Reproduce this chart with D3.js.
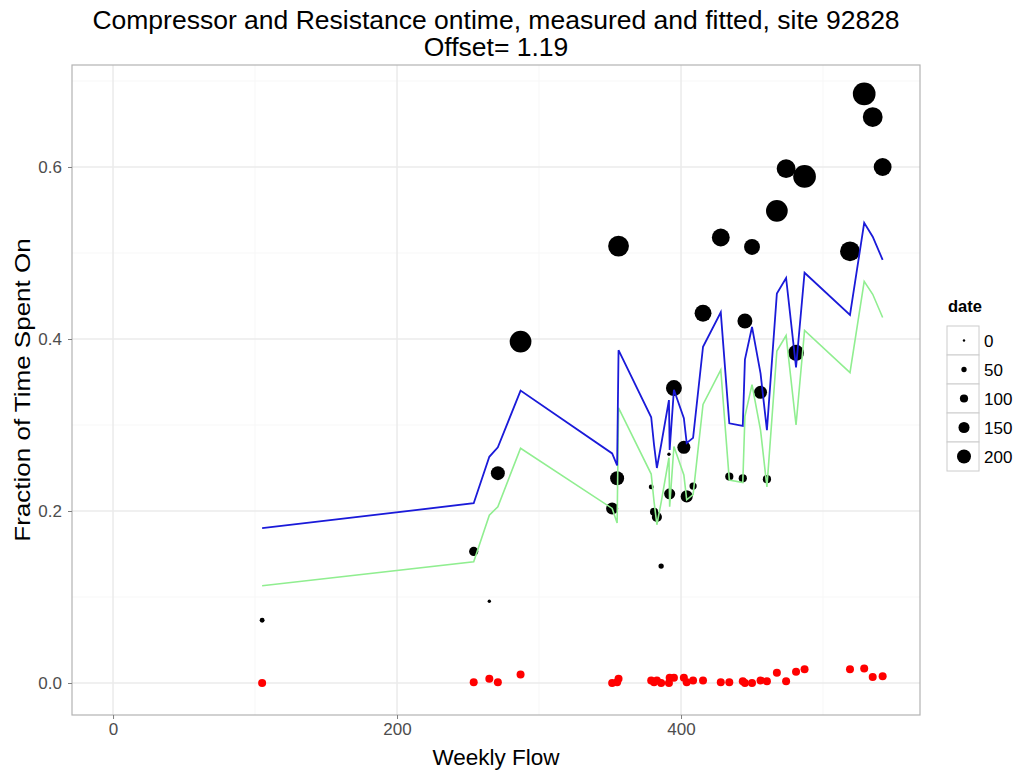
<!DOCTYPE html>
<html>
<head>
<meta charset="utf-8">
<script src="https://cdn.jsdelivr.net/npm/d3@7"></script>
<style>
  body { margin: 0; background: #fff; }
  text { font-family: "Liberation Sans", Arial, sans-serif; }
</style>
</head>
<body>
<div id="chart"></div>
<script>
// weekly flow for every observation
var flow = [105, 254, 265, 271, 287, 351.5, 355, 356, 379, 381, 383, 386, 391.5, 392, 395, 402, 404, 408.5,
            415.5, 428, 434, 443.5, 445, 450, 456, 460.5, 467.5, 474, 481, 487, 519, 529, 535, 542];
// measured compressor fraction (black points)
var measured = [0.073, 0.153, 0.095, 0.244, 0.397, 0.203, 0.238, 0.508, 0.228, 0.199, 0.193, 0.136, 0.266, 0.220,
                0.343, 0.274, 0.217, 0.229, 0.430, 0.518, 0.240, 0.238, 0.421, 0.507, 0.338, 0.237, 0.549, 0.598,
                0.384, 0.589, 0.502, 0.685, 0.658, 0.600];
// date, mapped to point size
var date = [43, 117, 17, 200, 333, 167, 200, 317, 43, 100, 133, 50, 17, 150, 233, 183, 167, 83, 250, 267, 100,
            100, 217, 233, 183, 100, 333, 283, 233, 350, 300, 350, 300, 267];
// resistance ontime (red points)
var resist = [0.000, 0.001, 0.005, 0.001, 0.010, 0.000, 0.001, 0.005, 0.003, 0.001, 0.003, 0.000, 0.000, 0.006,
              0.006, 0.006, 0.001, 0.003, 0.003, 0.001, 0.001, 0.002, 0.000, 0.000, 0.003, 0.002, 0.012, 0.002,
              0.013, 0.016, 0.016, 0.017, 0.007, 0.008];
// fitted lines
var fitBlue = [0.180, 0.209, 0.263, 0.274, 0.340, 0.267, 0.253, 0.387, 0.309, 0.277, 0.250, 0.277, 0.329, 0.271,
               0.341, 0.308, 0.279, 0.285, 0.391, 0.431, 0.302, 0.299, 0.376, 0.414, 0.360, 0.294, 0.453, 0.471,
               0.367, 0.477, 0.428, 0.535, 0.519, 0.492];
var fitGreen = [0.113, 0.141, 0.195, 0.205, 0.273, 0.203, 0.186, 0.320, 0.243, 0.211, 0.184, 0.210, 0.262, 0.205,
                0.275, 0.242, 0.213, 0.219, 0.324, 0.364, 0.236, 0.233, 0.310, 0.347, 0.294, 0.228, 0.386, 0.404,
                0.300, 0.410, 0.361, 0.467, 0.452, 0.425];

var xTicks = [0, 200, 400];
var yTicks = [0, 0.2, 0.4, 0.6];
var legendBreaks = [0, 50, 100, 150, 200];

var width = 1013,
    height = 772;
var margin = {left: 72, right: 93, top: 65, bottom: 57};

var svg = d3.select("#chart").append("svg")
    .attr("width", width)
    .attr("height", height);

var x = d3.scaleLinear()
    .domain([-28.9, 568.3])
    .range([margin.left, width - margin.right]);

var y = d3.scaleLinear()
    .domain([-0.0372, 0.7186])
    .range([height - margin.bottom, margin.top]);

var r = d3.scaleLinear()
    .domain([0, 200])
    .range([1.2, 7]);

var rows = flow.map(function(f, i) {
  return {flow: f, m: measured[i], date: date[i], res: resist[i], blue: fitBlue[i], green: fitGreen[i]};
});

// panel + grid
svg.append("rect")
    .attr("x", x.range()[0]).attr("y", y.range()[1])
    .attr("width", x.range()[1] - x.range()[0])
    .attr("height", y.range()[0] - y.range()[1])
    .attr("fill", "#fff");

var minorX = [100, 300, 500],
    minorY = [0.1, 0.3, 0.5, 0.7];

svg.selectAll(".minx").data(minorX).enter().append("line")
    .attr("x1", x).attr("x2", x)
    .attr("y1", y.range()[0]).attr("y2", y.range()[1])
    .attr("stroke", "#f7f7f7").attr("stroke-width", 1);
svg.selectAll(".miny").data(minorY).enter().append("line")
    .attr("y1", y).attr("y2", y)
    .attr("x1", x.range()[0]).attr("x2", x.range()[1])
    .attr("stroke", "#f7f7f7").attr("stroke-width", 1);
svg.selectAll(".majx").data(xTicks).enter().append("line")
    .attr("x1", x).attr("x2", x)
    .attr("y1", y.range()[0]).attr("y2", y.range()[1])
    .attr("stroke", "#ebebeb").attr("stroke-width", 1.5);
svg.selectAll(".majy").data(yTicks).enter().append("line")
    .attr("y1", y).attr("y2", y)
    .attr("x1", x.range()[0]).attr("x2", x.range()[1])
    .attr("stroke", "#ebebeb").attr("stroke-width", 1.5);

// points first, lines drawn over them
svg.selectAll(".meas").data(rows).enter().append("circle")
    .attr("cx", function(d) { return x(d.flow); })
    .attr("cy", function(d) { return y(d.m); })
    .attr("r", function(d) { return r(d.date); })
    .attr("fill", "#000");

svg.selectAll(".res").data(rows).enter().append("circle")
    .attr("cx", function(d) { return x(d.flow); })
    .attr("cy", function(d) { return y(d.res); })
    .attr("r", 4)
    .attr("fill", "#ff0000");

var lineBlue = d3.line()
    .x(function(d) { return x(d.flow); })
    .y(function(d) { return y(d.blue); });
var lineGreen = d3.line()
    .x(function(d) { return x(d.flow); })
    .y(function(d) { return y(d.green); });

svg.append("path").datum(rows)
    .attr("d", lineGreen)
    .attr("fill", "none").attr("stroke", "#90ee90").attr("stroke-width", 1.6);
svg.append("path").datum(rows)
    .attr("d", lineBlue)
    .attr("fill", "none").attr("stroke", "#1a1ad9").attr("stroke-width", 1.8);

// panel border
svg.append("rect")
    .attr("x", x.range()[0]).attr("y", y.range()[1])
    .attr("width", x.range()[1] - x.range()[0])
    .attr("height", y.range()[0] - y.range()[1])
    .attr("fill", "none").attr("stroke", "#b3b3b3").attr("stroke-width", 1.2);

// axes
var xAxis = svg.append("g")
    .attr("transform", "translate(0," + y.range()[0] + ")")
    .call(d3.axisBottom(x).tickValues(xTicks).tickSize(4).tickPadding(4).tickFormat(d3.format("d")));
var yAxis = svg.append("g")
    .attr("transform", "translate(" + x.range()[0] + ",0)")
    .call(d3.axisLeft(y).tickValues(yTicks).tickSize(4).tickPadding(6).tickFormat(d3.format(".1f")));

[xAxis, yAxis].forEach(function(g) {
  g.select(".domain").remove();
  g.selectAll(".tick line").attr("stroke", "#7f7f7f");
  g.selectAll(".tick text").attr("fill", "#4d4d4d").style("font-size", "17px");
});

// titles
svg.append("text")
    .attr("x", 496).attr("y", 29)
    .attr("text-anchor", "middle")
    .style("font-size", "26.5px")
    .text("Compressor and Resistance ontime, measured and fitted, site 92828");
svg.append("text")
    .attr("x", 496).attr("y", 56)
    .attr("text-anchor", "middle")
    .style("font-size", "26.5px")
    .text("Offset= 1.19");

svg.append("text")
    .attr("x", 496).attr("y", 765)
    .attr("text-anchor", "middle")
    .style("font-size", "22.5px")
    .text("Weekly Flow");
// glyphs look squashed sideways in the original, so narrow them a bit
svg.append("text")
    .attr("transform", "translate(30,390) rotate(-90) scale(1,0.84)")
    .attr("text-anchor", "middle")
    .style("font-size", "26px")
    .text("Fraction of Time Spent On");

// legend
var leg = svg.append("g").attr("transform", "translate(947,312)");
leg.append("text")
    .attr("x", 1).attr("y", 0)
    .style("font-size", "16.5px").style("font-weight", "bold")
    .text("date");
var key = leg.selectAll(".key").data(legendBreaks).enter().append("g")
    .attr("transform", function(d, i) { return "translate(0," + (14 + i * 29) + ")"; });
key.append("rect")
    .attr("width", 32).attr("height", 29)
    .attr("fill", "#fff").attr("stroke", "#cccccc").attr("stroke-width", 1);
key.append("circle")
    .attr("cx", 17).attr("cy", 14.5)
    .attr("r", function(d) { return r(d); })
    .attr("fill", "#000");
key.append("text")
    .attr("x", 37).attr("y", 21)
    .style("font-size", "17px")
    .text(function(d) { return d; });
</script>
</body>
</html>
